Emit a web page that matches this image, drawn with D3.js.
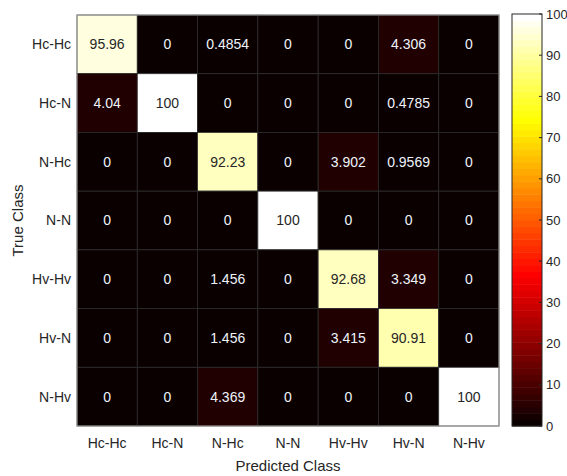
<!DOCTYPE html>
<html>
<head>
<meta charset="utf-8">
<script src="https://cdnjs.cloudflare.com/ajax/libs/d3/7.8.5/d3.min.js"></script>
<style>
  body { margin: 0; background: #fff; }
  text { font-family: "Liberation Sans", Arial, sans-serif; }
</style>
</head>
<body>
<div id="chart"></div>
<script>
// class labels (rows = true class, cols = predicted class)
var classes = ["Hc-Hc", "Hc-N", "N-Hc", "N-N", "Hv-Hv", "Hv-N", "N-Hv"];
// confusion matrix values in %, one array per true class
var rowHcHc = [95.96, 0, 0.4854, 0, 0, 4.306, 0];
var rowHcN  = [4.04, 100, 0, 0, 0, 0.4785, 0];
var rowNHc  = [0, 0, 92.23, 0, 3.902, 0.9569, 0];
var rowNN   = [0, 0, 0, 100, 0, 0, 0];
var rowHvHv = [0, 0, 1.456, 0, 92.68, 3.349, 0];
var rowHvN  = [0, 0, 1.456, 0, 3.415, 90.91, 0];
var rowNHv  = [0, 0, 4.369, 0, 0, 0, 100];
var colorTicks = [0, 10, 20, 30, 40, 50, 60, 70, 80, 90, 100];

var matrix = [rowHcHc, rowHcN, rowNHc, rowNN, rowHvHv, rowHvN, rowNHv];

var width = 567, height = 476;
var margin = { top: 15, left: 77 };
var plotW = 422, plotH = 411;

// MATLAB-like hot(64) colormap
var m = 64, n = Math.floor(3 / 8 * m);
var hot = d3.range(m).map(function (i) {
  var k = i + 1;
  var r = Math.min(k / n, 1);
  var g = k <= n ? 0 : Math.min((k - n) / n, 1);
  var b = k <= 2 * n ? 0 : (k - 2 * n) / (m - 2 * n);
  return { r: r, g: g, b: b, c: d3.rgb(r * 255, g * 255, b * 255).toString() };
});
function colorIndex(v) {
  return Math.max(0, Math.min(m - 1, Math.floor(v / 100 * m)));
}

var svg = d3.select("#chart").append("svg")
  .attr("width", width).attr("height", height);

var x = d3.scaleBand().domain(classes).range([margin.left, margin.left + plotW]);
var y = d3.scaleBand().domain(classes).range([margin.top, margin.top + plotH]);

var cells = [];
matrix.forEach(function (row, i) {
  row.forEach(function (v, j) {
    cells.push({ t: classes[i], p: classes[j], v: v });
  });
});

var fmt = d3.format(".4~g");

var g = svg.append("g");
g.selectAll("rect.cell").data(cells).enter().append("rect")
  .attr("class", "cell")
  .attr("x", function (d) { return x(d.p); })
  .attr("y", function (d) { return y(d.t); })
  .attr("width", x.bandwidth())
  .attr("height", y.bandwidth())
  .attr("fill", function (d) { return hot[colorIndex(d.v)].c; })
  .attr("stroke", "#2b2b2b")
  .attr("stroke-width", 0.8);

g.selectAll("text.val").data(cells).enter().append("text")
  .attr("class", "val")
  .attr("x", function (d) { return x(d.p) + x.bandwidth() / 2; })
  .attr("y", function (d) { return y(d.t) + y.bandwidth() / 2; })
  .attr("dy", "0.35em")
  .attr("text-anchor", "middle")
  .style("font-size", "14px")
  .attr("fill", function (d) {
    var h = hot[colorIndex(d.v)];
    var lum = 0.299 * h.r + 0.587 * h.g + 0.114 * h.b;
    return lum > 0.5 ? "#262626" : "#eef3fb";
  })
  .text(function (d) { return fmt(d.v); });

// plot border
svg.append("rect")
  .attr("x", margin.left).attr("y", margin.top)
  .attr("width", plotW).attr("height", plotH)
  .attr("fill", "none").attr("stroke", "#a6a6a6").attr("stroke-width", 1);

// axis tick labels
svg.selectAll("text.ylab").data(classes).enter().append("text")
  .attr("class", "ylab")
  .attr("x", margin.left - 6)
  .attr("y", function (d) { return y(d) + y.bandwidth() / 2; })
  .attr("dy", "0.35em")
  .attr("text-anchor", "end")
  .style("font-size", "14px")
  .attr("fill", "#262626")
  .text(function (d) { return d; });

svg.selectAll("text.xlab").data(classes).enter().append("text")
  .attr("class", "xlab")
  .attr("x", function (d) { return x(d) + x.bandwidth() / 2; })
  .attr("y", margin.top + plotH + 17)
  .attr("dy", "0.35em")
  .attr("text-anchor", "middle")
  .style("font-size", "14px")
  .attr("fill", "#262626")
  .text(function (d) { return d; });

svg.append("text")
  .attr("x", margin.left + plotW / 2)
  .attr("y", 466)
  .attr("dy", "0.35em")
  .attr("text-anchor", "middle")
  .style("font-size", "15px")
  .attr("fill", "#262626")
  .text("Predicted Class");

svg.append("text")
  .attr("transform", "translate(18," + (margin.top + plotH / 2) + ") rotate(-90)")
  .attr("dy", "0.35em")
  .attr("text-anchor", "middle")
  .style("font-size", "15px")
  .attr("fill", "#262626")
  .text("True Class");

// colorbar
var cbX = 512, cbW = 30, cbTop = 14, cbBot = 426;
var cy = d3.scaleLinear().domain([0, 100]).range([cbBot, cbTop]);
svg.append("g").selectAll("rect").data(hot).enter().append("rect")
  .attr("x", cbX)
  .attr("y", function (d, i) { return cy((i + 1) / m * 100); })
  .attr("width", cbW)
  .attr("height", function (d, i) { return cy(i / m * 100) - cy((i + 1) / m * 100) + 0.5; })
  .attr("fill", function (d) { return d.c; });

var cAxis = svg.append("g")
  .attr("transform", "translate(" + (cbX + cbW) + ",0)")
  .call(d3.axisRight(cy).tickValues(colorTicks).tickSize(0).tickPadding(4));
cAxis.select(".domain").remove();
cAxis.selectAll("text")
  .style("font-size", "13px")
  .style("font-family", "'Liberation Sans', Arial, sans-serif")
  .attr("fill", "#262626");
// small inner tick marks
svg.append("g").selectAll("line").data(colorTicks).enter().append("line")
  .attr("x1", cbX + cbW - 3).attr("x2", cbX + cbW)
  .attr("y1", function (d) { return cy(d); })
  .attr("y2", function (d) { return cy(d); })
  .attr("stroke", "#262626");

svg.append("rect")
  .attr("x", cbX).attr("y", cbTop)
  .attr("width", cbW).attr("height", cbBot - cbTop)
  .attr("fill", "none").attr("stroke", "#262626").attr("stroke-width", 1);
</script>
</body>
</html>
